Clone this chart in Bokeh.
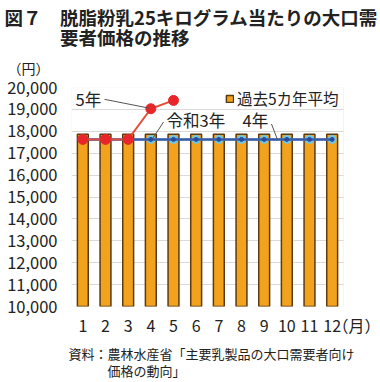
from bokeh.plotting import figure
from bokeh.models import (Label, FixedTicker, NumeralTickFormatter, Range1d, Title,
                          ColumnDataSource, Legend, LegendItem, BoxAnnotation)
from bokeh.embed import file_html
from bokeh.resources import INLINE

months = list(range(1, 13))
month_labels = [str(m) for m in months]
unit_x_label = "（月）"
avg5 = [17860] * 12
r3 = [17630] * 12
r4 = [17630] * 12
r5_months = [1, 2, 3, 4, 5]
r5 = [17630, 17630, 17630, 19030, 19410]
y_ticks = list(range(10000, 20001, 1000))

JP = "Noto Sans CJK JP"
W, H = 380, 382
L, T, B = 71, 87, 73
PW = 272  # width occupied by the 12 months
UNIT = PW / 12
x_end = 0.5 + (W - L) / UNIT
unit_tick = 13.1

p = figure(width=W, height=H, x_range=Range1d(0.5, x_end), y_range=Range1d(10000, 20000),
           output_backend="svg", toolbar_location=None, title=None,
           min_border_left=L, min_border_right=0, min_border_top=T, min_border_bottom=B)
p.outline_line_color = None
p.xgrid.grid_line_color = None
p.ygrid.grid_line_color = "#d9d9d9"
p.yaxis.ticker = FixedTicker(ticks=y_ticks)
p.yaxis.formatter = NumeralTickFormatter(format="0,0")
p.xaxis.ticker = FixedTicker(ticks=months + [unit_tick])
p.xaxis.major_label_overrides = {**{m: s for m, s in zip(months, month_labels)},
                                 unit_tick: unit_x_label}
for ax in (p.xaxis[0], p.yaxis[0]):
    ax.axis_line_color = None
    ax.major_tick_line_color = None
    ax.minor_tick_line_color = None
    ax.major_tick_out = 0
    ax.major_tick_in = 0
    ax.minor_tick_out = 0
    ax.minor_tick_in = 0
    ax.major_label_text_font = JP
    ax.major_label_text_color = "#222222"
p.yaxis.major_label_text_font_size = "16.5px"
p.xaxis.major_label_text_font_size = "16px"
p.yaxis.major_label_standoff = 14
p.xaxis.major_label_standoff = 6

# hide grid to the right of the plot area, then draw the plot-area outline
p.add_layout(BoxAnnotation(left=12.5, fill_color="white", fill_alpha=1,
                           line_alpha=0, level="underlay"))
p.add_layout(BoxAnnotation(left=0.5, right=12.5, bottom=10000, top=20000,
                           fill_alpha=0, line_color="#d9d9d9", line_width=1,
                           level="underlay"))

bars = p.vbar(x=months, top=avg5, bottom=10000, width=0.48,
              fill_color="#f2a21c", line_color="#5a3a12", line_width=1.5)

src3 = ColumnDataSource(dict(x=months, y=r3))
src4 = ColumnDataSource(dict(x=months, y=r4))
src5 = ColumnDataSource(dict(x=r5_months, y=r5))
p.line("x", "y", source=src4, color="#7ab8d8", line_width=2)
p.scatter("x", "y", source=src4, size=8, fill_color="#6cc8e8", line_color="#6cc8e8")
p.line("x", "y", source=src3, color="#3a5ba6", line_width=2.5)
p.scatter("x", "y", source=src3, size=4, fill_color="#2a4a9a", line_color="#2a4a9a")
p.line("x", "y", source=src5, color="#e0503a", line_width=2)
p.scatter("x", "y", source=src5, size=10, fill_color="#e8262a", line_color="#e8262a")

legend = Legend(items=[LegendItem(label="過去5カ年平均", renderers=[bars])],
                location=(225 - L, 309 - 112), label_text_font=JP, label_text_font_size="15.5px",
                label_text_color="#222222", border_line_color=None,
                background_fill_alpha=0, glyph_width=9, glyph_height=9,
                label_standoff=3, padding=0, margin=0, label_height=18)
p.add_layout(legend)

def dx(px):
    return 0.5 + (px - L) / UNIT

def dy(py):
    return 20000 - (py - T) / ((H - T - B) / 10000)

# leader lines
p.segment(x0=[dx(104), dx(163), dx(271)], y0=[dy(99), dy(122), dy(124)],
          x1=[dx(149), dx(152), dx(277)], y1=[dy(108), dy(139), dy(140)],
          line_color="#555555", line_width=1)

def lab(text, px, py):
    p.add_layout(Label(x=dx(px), y=dy(py), text=text, text_font=JP,
                       text_font_size="16.5px", text_color="#222222",
                       text_align="left", text_baseline="middle"))

lab("5年", 75, 99)
lab("令和3年", 166, 120)
lab("4年", 242, 120)

# texts outside the plot area: titles (first added is closest to the frame)
def title(text, place, offset, size, bold=False, standoff=0, lh=1.0, valign="bottom"):
    p.add_layout(Title(text=text, align="left", offset=offset - L, text_font=JP,
                       text_font_size=size, text_color="#222222",
                       text_font_style="bold" if bold else "normal",
                       standoff=standoff, text_line_height=lh,
                       vertical_align=valign), place)

title("（円）", "above", 7, "14px", standoff=15, valign="top")
title("図７　脱脂粉乳25キログラム当たりの大口需\n　　　要者価格の推移", "above", 4, "18.5px",
      bold=True, standoff=0, lh=0.78)
title("資料：農林水産省「主要乳製品の大口需要者向け\n　　　価格の動向」", "below", 68, "13px",
      standoff=5, lh=0.9)

open("out.html", "w").write(file_html(p, INLINE))
